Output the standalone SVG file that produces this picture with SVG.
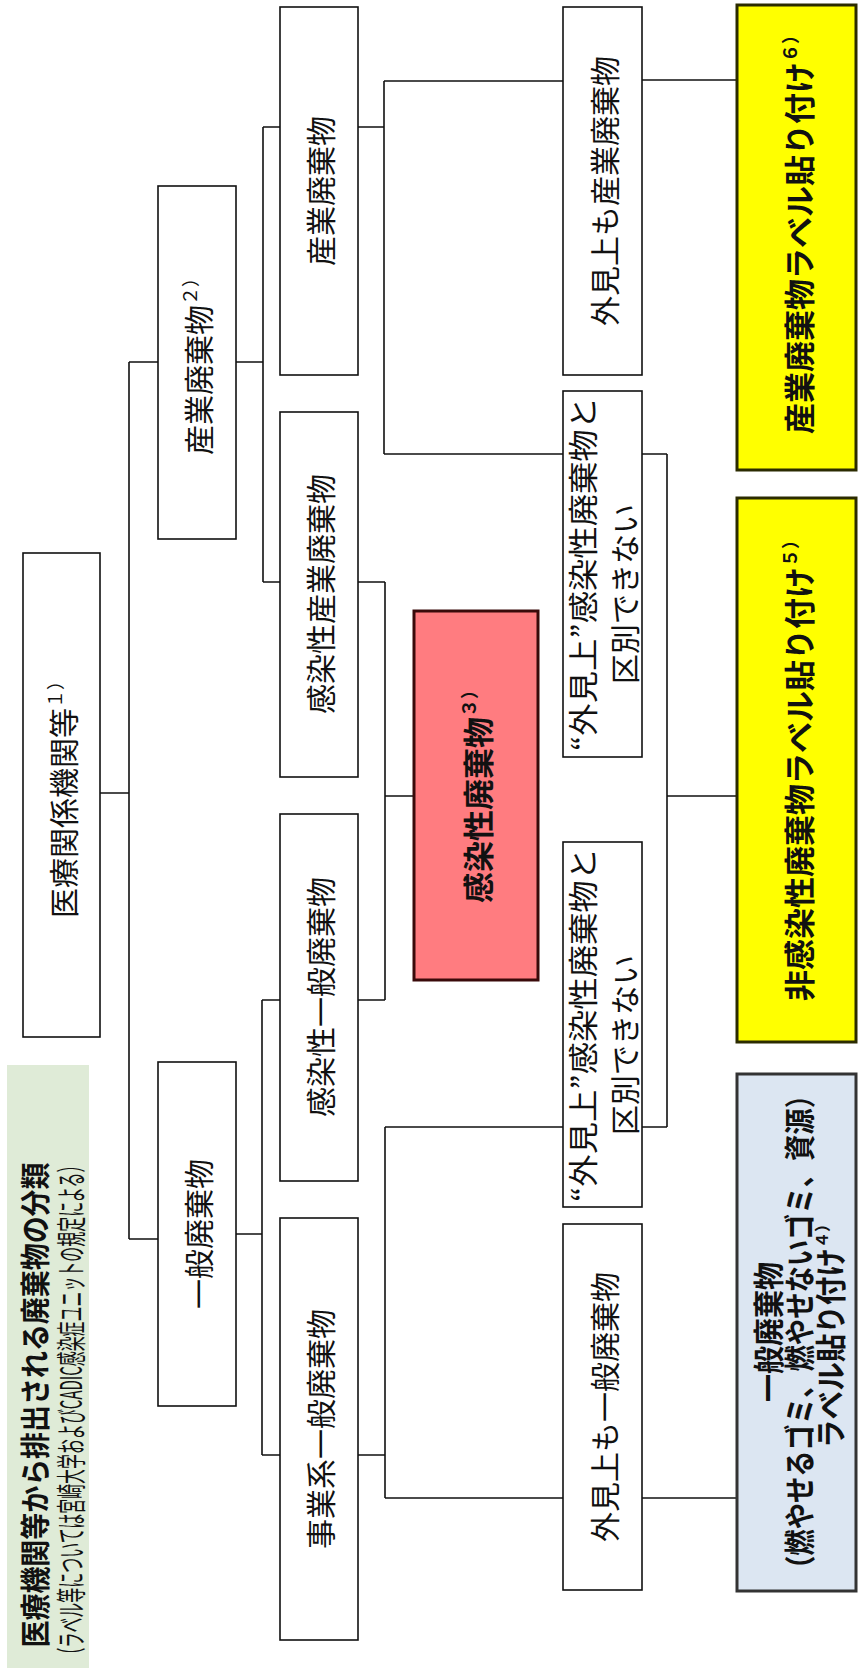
<svg xmlns="http://www.w3.org/2000/svg" width="858" height="1675" viewBox="0 0 858 1675">
<style>
.box{fill:#fff;stroke:#111;stroke-width:1.6}
.pink{fill:#FF7C80;stroke:#3a0a0a;stroke-width:3}
.yel{fill:#FFFF00;stroke:#2b2b00;stroke-width:3}
.blue{fill:#DCE6F2;stroke:#333;stroke-width:3}
.t{font-family:"Noto Sans CJK JP","Noto Sans CJK SC",sans-serif;font-size:30px;fill:#111;text-anchor:middle;dominant-baseline:central}
.b{font-weight:bold;font-size:31px}
.sup{font-size:18px}
.c{fill:none;stroke:#111;stroke-width:1.6}
</style>
<rect x="0" y="0" width="858" height="1675" fill="#fff"/>
<g id="connectors">
<path class="c" d="M100 793H129M129 362V1239M129 362H158M129 1239H158"/>
<path class="c" d="M236 362H263M263 127V582M263 127H280M263 582H280"/>
<path class="c" d="M236 1234H262M262 1000V1455M262 1000H280M262 1455H280"/>
<path class="c" d="M358 127H384M384 81V454M384 81H563M384 454H563"/>
<path class="c" d="M358 582H385M358 1000H385M385 582V1000M385 796H414"/>
<path class="c" d="M358 1455H385M385 1127V1498M385 1127H563M385 1498H563"/>
<path class="c" d="M642 80H737"/>
<path class="c" d="M642 454H667M642 1127H667M667 454V1127M667 796H737"/>
<path class="c" d="M642 1498H737"/>
</g>
<g id="title">
<rect x="7" y="1065" width="82" height="603" fill="#DFEBD7"/>
<text class="t" font-weight="bold" font-size="25" textLength="485" lengthAdjust="spacingAndGlyphs" transform="translate(33,1405) rotate(-90)">医療機関等から排出される廃棄物の分類</text>
<text class="t" font-size="15" textLength="505" lengthAdjust="spacingAndGlyphs" transform="translate(69,1410) rotate(-90)">（ラベル等については宮崎大学およびCADIC感染症ユニットの規定による）</text>
</g>
<g id="n-iryo">
<rect class="box" x="23" y="553" width="77" height="484"/>
<text class="t" transform="translate(61.5,795) rotate(-90)">医療関係機関等<tspan class="sup" dy="-8">１）</tspan></text>
</g>
<g id="n-sangyo">
<rect class="box" x="158" y="186" width="78" height="353"/>
<text class="t" transform="translate(197,362) rotate(-90)">産業廃棄物<tspan class="sup" dy="-8">２）</tspan></text>
</g>
<g id="n-ippan">
<rect class="box" x="158" y="1062" width="78" height="344"/>
<text class="t" transform="translate(197,1234) rotate(-90)">一般廃棄物</text>
</g>
<g id="n-sangyo2">
<rect class="box" x="280" y="7" width="78" height="368"/>
<text class="t" transform="translate(319,191) rotate(-90)">産業廃棄物</text>
</g>
<g id="n-kansen-sangyo">
<rect class="box" x="280" y="412" width="78" height="365"/>
<text class="t" transform="translate(319,594) rotate(-90)">感染性産業廃棄物</text>
</g>
<g id="n-kansen-ippan">
<rect class="box" x="280" y="814" width="78" height="367"/>
<text class="t" transform="translate(319,997) rotate(-90)">感染性一般廃棄物</text>
</g>
<g id="n-jigyo">
<rect class="box" x="280" y="1218" width="78" height="422"/>
<text class="t" transform="translate(319,1429) rotate(-90)">事業系一般廃棄物</text>
</g>
<g id="n-kansen">
<rect class="pink" x="414" y="611" width="124" height="369"/>
<text class="t b" font-size="32" transform="translate(476,792) rotate(-90)">感染性廃棄物<tspan class="sup" dy="-8">３）</tspan></text>
</g>
<g id="n-gaiken-sangyo">
<rect class="box" x="563" y="7" width="79" height="368"/>
<text class="t" transform="translate(602.5,191) rotate(-90)">外見上も産業廃棄物</text>
</g>
<g id="n-gaiken-kubetsu1">
<rect class="box" x="563" y="391" width="79" height="366"/>
<text class="t" textLength="354" lengthAdjust="spacingAndGlyphs" transform="translate(581,574) rotate(-90)">“外見上”感染性廃棄物と</text>
<text class="t" transform="translate(623,594) rotate(-90)">区別できない</text>
</g>
<g id="n-gaiken-kubetsu2">
<rect class="box" x="563" y="842" width="79" height="365"/>
<text class="t" textLength="354" lengthAdjust="spacingAndGlyphs" transform="translate(581,1025) rotate(-90)">“外見上”感染性廃棄物と</text>
<text class="t" transform="translate(623,1045) rotate(-90)">区別できない</text>
</g>
<g id="n-gaiken-ippan">
<rect class="box" x="563" y="1224" width="79" height="366"/>
<text class="t" transform="translate(602.5,1407) rotate(-90)">外見上も一般廃棄物</text>
</g>
<g id="n-label-sangyo">
<rect class="yel" x="737" y="5" width="119" height="465"/>
<text class="t b" transform="translate(797,230) rotate(-90)">産業廃棄物ラベル貼り付け<tspan class="sup" dy="-8">６）</tspan></text>
</g>
<g id="n-label-hikansen">
<rect class="yel" x="737" y="498" width="119" height="544"/>
<text class="t b" font-size="33" transform="translate(797,766) rotate(-90)">非感染性廃棄物ラベル貼り付け<tspan class="sup" dy="-8">５）</tspan></text>
</g>
<g id="n-label-ippan">
<rect class="blue" x="737" y="1074" width="119" height="517"/>
<text class="t b" font-size="24" textLength="140" lengthAdjust="spacingAndGlyphs" transform="translate(766,1332) rotate(-90)">一般廃棄物</text>
<text class="t b" font-size="24" textLength="500" lengthAdjust="spacingAndGlyphs" transform="translate(797,1332) rotate(-90)">（燃やせるゴミ、燃やせないゴミ、資源）</text>
<text class="t b" font-size="24" transform="translate(828,1332) rotate(-90)"><tspan textLength="200" lengthAdjust="spacingAndGlyphs">ラベル貼り付け</tspan><tspan font-size="16" dy="-7">４）</tspan></text>
</g>
</svg>
